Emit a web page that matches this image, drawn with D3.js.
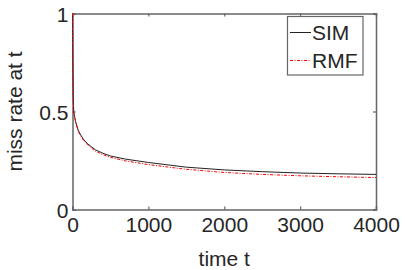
<!DOCTYPE html>
<html><head><meta charset="utf-8">
<script src="https://cdn.jsdelivr.net/npm/d3@7"></script>
<style>
html,body{margin:0;padding:0;background:#fff;}
text{font-family:"Liberation Sans",Arial,sans-serif;fill:#262626;}
</style></head>
<body>
<svg id="c" width="405" height="270"></svg>
<script>
const timeT = [0, 2, 5, 10, 15, 20, 40, 70, 100, 150, 200, 300, 400, 500, 700, 1000, 1500, 2000, 2500, 3000, 3500, 4000];
const simValues = [1.0, 0.85, 0.7, 0.57, 0.51, 0.49, 0.45, 0.41, 0.385, 0.355, 0.335, 0.305, 0.287, 0.273, 0.257, 0.240, 0.216, 0.202, 0.193, 0.186, 0.182, 0.179];
const rmfValues = [1.0, 0.85, 0.7, 0.57, 0.51, 0.49, 0.45, 0.405, 0.38, 0.35, 0.33, 0.298, 0.28, 0.266, 0.248, 0.229, 0.205, 0.189, 0.179, 0.172, 0.167, 0.163];
const seriesNames = ["SIM", "RMF"];
const xTicks = [0, 1000, 2000, 3000, 4000];
const yTicks = [0, 0.5, 1];

const svg = d3.select("#c");
const L = 72.5, R = 376, T = 13.5, B = 209.5;
const x = d3.scaleLinear().domain([0, 4000]).range([L, R]);
const y = d3.scaleLinear().domain([0, 1]).range([B, T]);
const axisColor = "#666";
const fs = 21;

// axes with inward ticks
const gx = svg.append("g").attr("transform", `translate(0,${B})`)
  .call(d3.axisBottom(x).tickValues(xTicks).tickSize(-3).tickPadding(10).tickFormat(d3.format("d")));
const gxt = svg.append("g").attr("transform", `translate(0,${T})`)
  .call(d3.axisTop(x).tickValues(xTicks).tickSize(-3).tickFormat(""));
const gy = svg.append("g").attr("transform", `translate(${L},0)`)
  .call(d3.axisLeft(y).tickValues(yTicks).tickSize(-3).tickPadding(4).tickFormat(d => d === 0 ? "0" : d === 1 ? "1" : d3.format(".1f")(d)));
const gyr = svg.append("g").attr("transform", `translate(${R},0)`)
  .call(d3.axisRight(y).tickValues(yTicks).tickSize(-3).tickFormat(""));
[gx, gxt, gy, gyr].forEach(g => {
  g.select(".domain").attr("stroke", axisColor).attr("stroke-width", 1.5);
  g.selectAll(".tick line").attr("stroke", axisColor).attr("stroke-width", 1.2);
  g.selectAll("text").style("font-family", '"Liberation Sans",Arial,sans-serif').style("font-size", fs + "px").attr("fill", "#262626");
});
gx.selectAll(".tick text").attr("dy", "0.6em");
gy.selectAll(".tick text").attr("dy", "0.36em");

// lines
const line = vals => d3.line().x((d, i) => x(timeT[i])).y(d => y(d))(vals);
svg.append("path").attr("d", line(simValues)).attr("fill", "none").attr("stroke", "#222").attr("stroke-width", 1);
svg.append("path").attr("d", line(rmfValues)).attr("fill", "none").attr("stroke", "#ff0000").attr("stroke-width", 1).attr("stroke-dasharray", "3,1.5,1,1.5");

// axis labels
svg.append("text").attr("x", (L + R) / 2).attr("y", 265.5).attr("text-anchor", "middle").style("font-size", fs + "px").text("time t");
svg.append("text").attr("transform", `translate(22,${(T + B) / 2}) rotate(-90)`).attr("text-anchor", "middle").style("font-size", fs + "px").text("miss rate at t");

// legend
const lg = svg.append("g");
lg.append("rect").attr("x", 287.5).attr("y", 16.5).attr("width", 75.5).attr("height", 58.5).attr("fill", "#fff").attr("stroke", axisColor).attr("stroke-width", 1.2);
const legendStyles = [{stroke: "#222", dash: null}, {stroke: "#ff0000", dash: "3,1.5,1,1.5"}];
seriesNames.forEach((n, i) => {
  const yy = 32.5 + i * 28;
  lg.append("line").attr("x1", 290).attr("x2", 311).attr("y1", yy).attr("y2", yy)
    .attr("stroke", legendStyles[i].stroke).attr("stroke-width", 1).attr("stroke-dasharray", legendStyles[i].dash);
  lg.append("text").attr("x", 312).attr("y", yy).attr("dy", "0.36em").style("font-size", fs + "px").text(n);
});
</script>
</body></html>
